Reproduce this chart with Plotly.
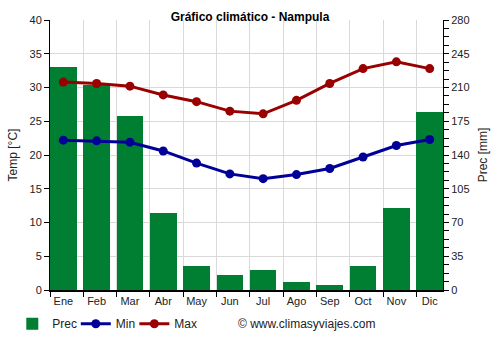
import plotly.graph_objects as go

months = ["Ene", "Feb", "Mar", "Abr", "May", "Jun", "Jul", "Ago", "Sep", "Oct", "Nov", "Dic"]
prec = [231, 213, 180, 80, 25, 15.5, 20.5, 8, 5, 25, 85.5, 185]
tmin = [22.2, 22.1, 21.9, 20.6, 18.8, 17.2, 16.5, 17.1, 18.0, 19.7, 21.4, 22.3]
tmax = [30.8, 30.6, 30.2, 28.9, 27.9, 26.5, 26.1, 28.1, 30.6, 32.8, 33.8, 32.8]

GREEN = "#007E31"
BLUE = "#000099"
RED = "#990000"
FONT = "Liberation Sans, Arial, sans-serif"

xpos = [i + 0.4 for i in range(len(months))]

fig = go.Figure()
fig.add_trace(go.Bar(x=xpos, y=prec, width=0.8, name="Prec", marker=dict(color=GREEN, line_width=0),
                     yaxis="y", legend="legend"))
fig.add_trace(go.Scatter(x=xpos, y=tmin, name="Min", mode="lines+markers", yaxis="y2", legend="legend2",
                         line=dict(color=BLUE, width=3), marker=dict(size=9, color=BLUE)))
fig.add_trace(go.Scatter(x=xpos, y=tmax, name="Max", mode="lines+markers", yaxis="y2", legend="legend3",
                         line=dict(color=RED, width=3), marker=dict(size=9, color=RED)))


def leg(px_left):
    return dict(orientation="h", x=(px_left - 49) / 396, xanchor="left", y=-0.125, yanchor="middle",
                font=dict(size=12, color="#222"), itemwidth=30, bgcolor="rgba(0,0,0,0)")


fig.update_layout(
    width=500, height=350,
    margin=dict(l=49, r=55, t=20, b=58),
    paper_bgcolor="white", plot_bgcolor="white",
    font=dict(family=FONT, size=11, color="#222"),
    title=dict(text="<b>Gráfico climático - Nampula</b>", x=0.5, xanchor="center", y=0.952, yanchor="middle",
               font=dict(size=12, color="black")),
    bargap=0,
    showlegend=True,
    legend=leg(11),
    legend2=leg(75),
    legend3=leg(134),
    xaxis=dict(range=[0, 11.8], tickvals=xpos, ticktext=months, ticks="", showgrid=False,
               showline=True, linecolor="black", linewidth=2, zeroline=False,
               tickfont=dict(size=11, color="#222"),
               minor=dict(tick0=0, dtick=1, ticks="outside", ticklen=5, tickcolor="black",
                          showgrid=True, gridcolor="#d9d9d9", gridwidth=1)),
    yaxis=dict(range=[0, 280], side="right", dtick=35, tick0=0, ticks="outside", ticklen=5,
               tickcolor="black", showline=True, linecolor="black", linewidth=1,
               showgrid=True, gridcolor="#d9d9d9", gridwidth=1, zeroline=False,
               title=dict(text="Prec [mm]", font=dict(size=12, color="#222"), standoff=10),
               minor=dict(dtick=8.75, tick0=0, ticks="outside", ticklen=5, tickcolor="black", showgrid=False)),
    yaxis2=dict(range=[0, 40], side="left", overlaying="y", dtick=5, tick0=0, ticks="outside", ticklen=5,
                tickcolor="black", showline=True, linecolor="black", linewidth=1, showgrid=False,
                zeroline=False,
                title=dict(text="Temp [°C]", font=dict(size=12, color="#222"), standoff=9)),
)

fig.add_annotation(text="© www.climasyviajes.com", xref="paper", yref="paper",
                   x=(236 - 49) / 396, y=-0.125, xanchor="left", yanchor="middle", showarrow=False,
                   font=dict(size=12, color="#222"))

fig.write_html("out.html")
